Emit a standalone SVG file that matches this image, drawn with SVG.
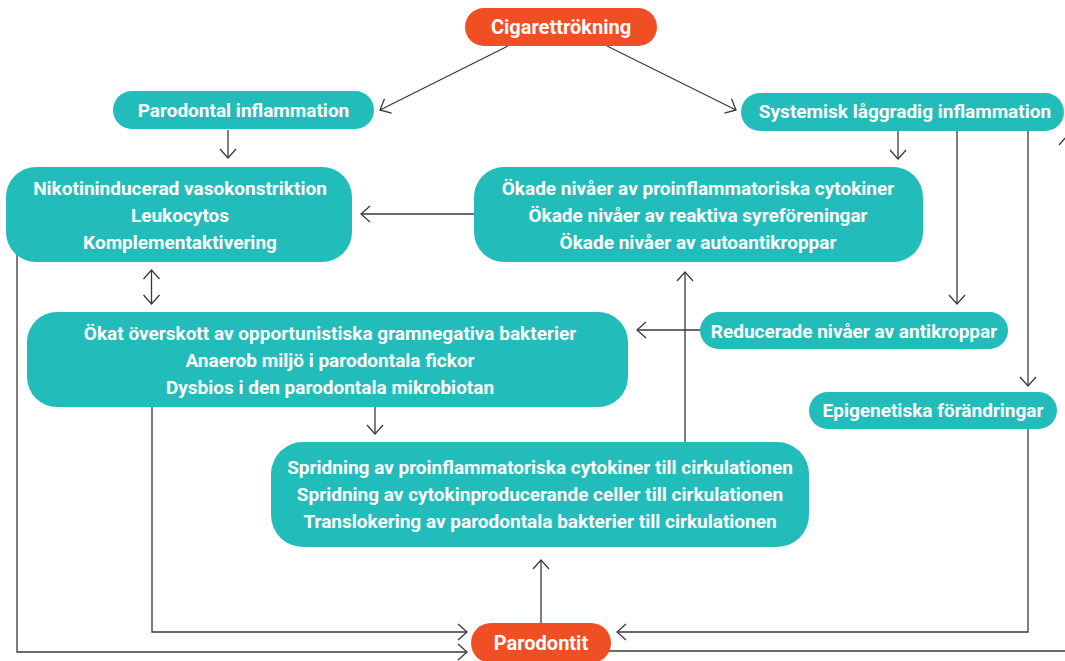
<svg xmlns="http://www.w3.org/2000/svg" width="1065" height="661" viewBox="0 0 1065 661">
<defs>
<style>
.t{fill:#22BDBA}
.o{fill:#F04E23}
text{font-family:Roboto,"Liberation Sans",sans-serif;font-weight:700;font-size:19px;fill:#fff;text-anchor:middle;dominant-baseline:central}
text.b{font-size:20px}
.c path,.c line{fill:none;stroke:#3a3a3a;stroke-width:1.3}
</style>
<marker id="ah" viewBox="0 0 12 18" refX="10" refY="9" markerWidth="12" markerHeight="18" markerUnits="userSpaceOnUse" orient="auto-start-reverse">
<path d="M1,1 L10,9 L1,17" fill="none" stroke="#3a3a3a" stroke-width="1.3"/>
</marker>
</defs>
<rect width="1065" height="661" fill="#fff"/>
<g id="connectors" class="c">
<line x1="508" y1="46" x2="380" y2="110" marker-end="url(#ah)"/>
<line x1="607" y1="46" x2="736" y2="110" marker-end="url(#ah)"/>
<line x1="228" y1="130" x2="228" y2="158" marker-end="url(#ah)"/>
<line x1="898" y1="130" x2="898" y2="159" marker-end="url(#ah)"/>
<line x1="475" y1="214" x2="361" y2="214" marker-end="url(#ah)"/>
<line x1="151.5" y1="270" x2="151.5" y2="304" marker-start="url(#ah)" marker-end="url(#ah)"/>
<line x1="957" y1="130" x2="957" y2="304" marker-end="url(#ah)"/>
<line x1="1028" y1="130" x2="1028" y2="386" marker-end="url(#ah)"/>
<line x1="700" y1="330" x2="637" y2="330" marker-end="url(#ah)"/>
<line x1="685" y1="442" x2="685" y2="272" marker-end="url(#ah)"/>
<line x1="375" y1="406" x2="375" y2="434" marker-end="url(#ah)"/>
<path d="M152,400 V632 H467" marker-end="url(#ah)"/>
<path d="M17,240 V652 H467" marker-end="url(#ah)"/>
<path d="M1028,420 V632 H617" marker-end="url(#ah)"/>
<line x1="541" y1="624" x2="541" y2="560" marker-end="url(#ah)"/>
<path d="M600,651 H1067 V136" marker-end="url(#ah)"/>
</g>
<g id="n-cigarett"><rect class="o" x="465" y="8" width="192" height="38" rx="19"/><text class="b" x="561" y="27">Cigarettrökning</text></g>
<g id="n-parodontal"><rect class="t" x="113" y="91" width="261" height="38" rx="19"/><text x="243.5" y="110">Parodontal inflammation</text></g>
<g id="n-systemisk"><rect class="t" x="741" y="93" width="323" height="38" rx="19"/><text x="905" y="111">Systemisk låggradig inflammation</text></g>
<g id="n-nikotin"><rect class="t" x="6" y="167" width="346" height="95" rx="30"/>
<text x="180" y="188">Nikotininducerad vasokonstriktion</text><text x="180" y="215">Leukocytos</text><text x="180" y="242">Komplementaktivering</text></g>
<g id="n-okade"><rect class="t" x="474" y="167" width="449" height="95" rx="30"/>
<text x="698" y="188">Ökade nivåer av proinflammatoriska cytokiner</text><text x="698" y="215">Ökade nivåer av reaktiva syreföreningar</text><text x="698" y="242">Ökade nivåer av autoantikroppar</text></g>
<g id="n-okat"><rect class="t" x="27" y="312" width="601" height="95" rx="30"/>
<text x="330" y="333">Ökat överskott av opportunistiska gramnegativa bakterier</text><text x="330" y="360">Anaerob miljö i parodontala fickor</text><text x="330" y="387">Dysbios i den parodontala mikrobiotan</text></g>
<g id="n-reducerade"><rect class="t" x="700" y="312" width="308" height="37" rx="18.5"/><text x="854" y="331">Reducerade nivåer av antikroppar</text></g>
<g id="n-epigenetiska"><rect class="t" x="809" y="392" width="248" height="37" rx="18.5"/><text x="933" y="410">Epigenetiska förändringar</text></g>
<g id="n-spridning"><rect class="t" x="271" y="442" width="538" height="105" rx="32"/>
<text x="540" y="467">Spridning av proinflammatoriska cytokiner till cirkulationen</text><text x="540" y="494">Spridning av cytokinproducerande celler till cirkulationen</text><text x="540" y="521">Translokering av parodontala bakterier till cirkulationen</text></g>
<g id="n-parodontit"><rect class="o" x="471" y="623" width="140" height="40" rx="20"/><text class="b" x="541" y="643">Parodontit</text></g>
</svg>
